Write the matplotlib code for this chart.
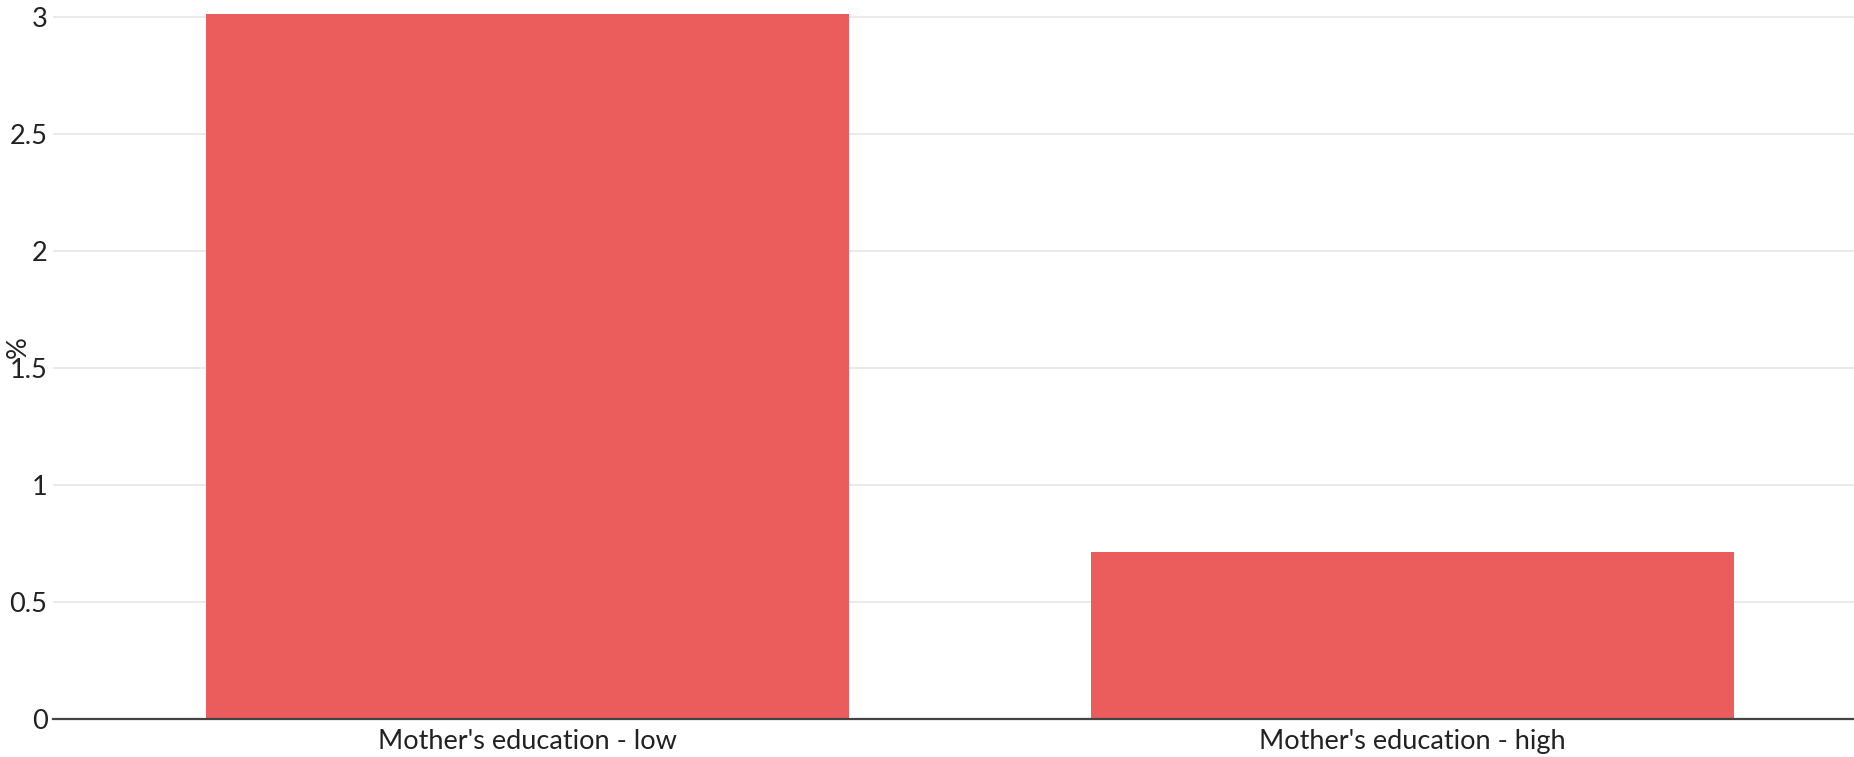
import matplotlib.pyplot as plt

categories = ["Mother's education - low", "Mother's education - high"]
values = [3.01, 0.712]
yticks = [0, 0.5, 1, 1.5, 2, 2.5, 3]
ytick_labels = ["0", "0.5", "1", "1.5", "2", "2.5", "3"]

plt.rcParams['font.family'] = ['Lato', 'DejaVu Sans']

fig = plt.figure(figsize=(18.54, 7.57), dpi=100)
ax = fig.add_axes([0.0286, 0.0502, 0.9714, 0.937])

x = range(len(categories))
ax.bar(x, values, width=0.727, color="#eb5c5c", zorder=2)

ax.set_xlim(-0.536, 1.499)
ax.set_ylim(0, 3.03)
ax.set_yticks(yticks)
ax.set_yticklabels(ytick_labels)
ax.set_xticks(list(x))
ax.set_xticklabels(categories)
ax.grid(axis="y", color="#e8e8e8", linewidth=1.3, zorder=0)

for s in ["top", "right", "left"]:
    ax.spines[s].set_visible(False)
ax.spines["bottom"].set_color("#444444")
ax.spines["bottom"].set_linewidth(1.6)
ax.spines["bottom"].set_zorder(3)

ax.tick_params(axis="both", length=0, labelsize=19.5, colors="#222222")
ax.tick_params(axis="y", pad=4)
ax.tick_params(axis="x", pad=7)
ax.set_ylabel("%", fontsize=19.5, color="#222222")
ax.yaxis.set_label_coords(-0.0122, 0.525)

fig.savefig("out.png", dpi=100)
